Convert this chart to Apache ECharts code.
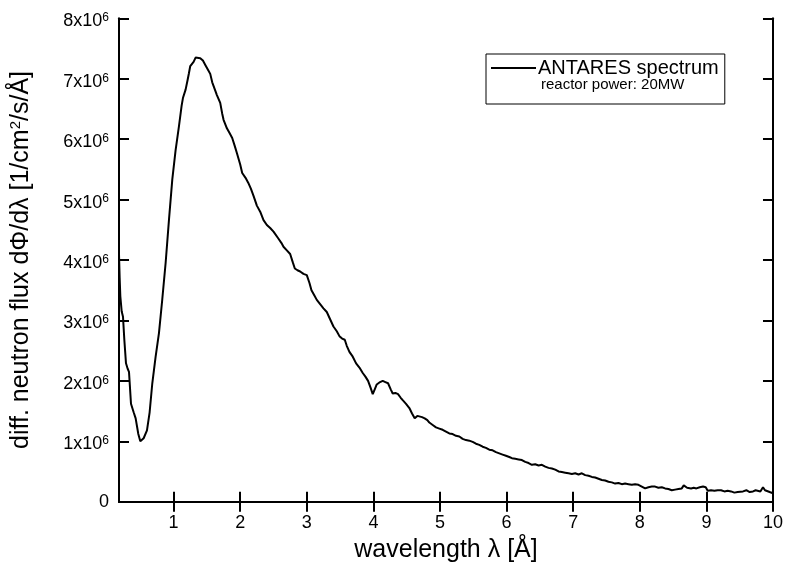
<!DOCTYPE html>
<html>
<head>
<meta charset="utf-8">
<script src="https://cdn.jsdelivr.net/npm/echarts@6/dist/echarts.min.js"></script>
<style>
html,body{margin:0;padding:0;background:#fff;}
#c{width:786px;height:573px;}
</style>
</head>
<body>
<div id="c"></div>
<script>
// wavelength in Angstrom
var lambda = [0.18,0.19,0.20,0.22,0.24,0.26,0.285,0.31,0.33,0.36,0.40,0.43,0.47,0.50,0.52,0.55,0.60,0.64,0.68,0.73,0.78,0.83,0.88,0.93,0.98,1.03,1.08,1.12,1.14,1.18,1.21,1.23,1.25,1.28,1.30,1.33,1.36,1.40,1.44,1.48,1.52,1.55,1.58,1.62,1.65,1.70,1.73,1.75,1.80,1.84,1.88,1.92,1.95,2.00,2.03,2.08,2.12,2.16,2.20,2.25,2.30,2.35,2.40,2.45,2.50,2.57,2.62,2.65,2.70,2.75,2.79,2.82,2.86,2.90,2.95,3.00,3.04,3.07,3.11,3.15,3.20,3.25,3.30,3.35,3.40,3.45,3.49,3.53,3.57,3.60,3.64,3.69,3.74,3.79,3.84,3.88,3.92,3.96,3.99,4.02,4.05,4.10,4.14,4.18,4.22,4.26,4.29,4.33,4.37,4.41,4.44,4.49,4.54,4.58,4.62,4.66,4.69,4.73,4.77,4.81,4.84,4.89,4.94,4.99,5.04,5.09,5.14,5.19,5.24,5.29,5.34,5.39,5.44,5.49,5.54,5.59,5.64,5.69,5.74,5.79,5.84,5.89,5.94,5.99,6.04,6.08,6.13,6.18,6.23,6.28,6.33,6.38,6.43,6.48,6.53,6.58,6.63,6.68,6.73,6.78,6.83,6.88,6.93,6.98,7.03,7.08,7.13,7.18,7.23,7.28,7.33,7.38,7.43,7.48,7.53,7.58,7.63,7.68,7.73,7.78,7.83,7.88,7.93,7.98,8.03,8.08,8.13,8.18,8.23,8.28,8.33,8.38,8.43,8.48,8.53,8.58,8.63,8.66,8.68,8.71,8.73,8.77,8.81,8.85,8.90,8.95,8.99,9.02,9.07,9.12,9.17,9.22,9.27,9.32,9.37,9.42,9.47,9.50,9.55,9.60,9.65,9.70,9.74,9.77,9.81,9.85,9.88,9.90,9.95,10.0];
// flux in units of 1e6 n/cm^2/s/A
var flux = [4.10,3.70,3.40,3.15,3.06,2.68,2.29,2.20,2.15,1.62,1.48,1.38,1.12,1.00,0.98,1.05,1.18,1.48,1.96,2.40,2.79,3.35,3.95,4.66,5.33,5.82,6.21,6.55,6.68,6.82,6.98,7.09,7.21,7.24,7.28,7.35,7.37,7.34,7.30,7.22,7.14,7.08,6.94,6.82,6.73,6.60,6.42,6.32,6.18,6.10,6.02,5.88,5.77,5.58,5.44,5.36,5.28,5.18,5.06,4.90,4.80,4.66,4.58,4.53,4.47,4.36,4.28,4.22,4.16,4.10,3.96,3.86,3.83,3.81,3.77,3.75,3.62,3.50,3.42,3.34,3.27,3.20,3.14,3.02,2.90,2.82,2.74,2.70,2.68,2.58,2.48,2.40,2.29,2.22,2.13,2.07,2.00,1.88,1.78,1.86,1.94,1.98,2.00,1.98,1.96,1.86,1.79,1.80,1.78,1.72,1.68,1.62,1.55,1.46,1.38,1.42,1.44,1.40,1.38,1.35,1.31,1.27,1.23,1.21,1.19,1.16,1.13,1.12,1.09,1.08,1.04,1.02,1.01,0.99,0.96,0.94,0.91,0.89,0.86,0.85,0.82,0.80,0.78,0.76,0.74,0.72,0.71,0.70,0.69,0.66,0.64,0.61,0.62,0.60,0.61,0.58,0.56,0.55,0.53,0.50,0.49,0.48,0.47,0.46,0.47,0.45,0.47,0.44,0.43,0.41,0.40,0.38,0.36,0.35,0.33,0.32,0.30,0.31,0.29,0.30,0.29,0.28,0.29,0.28,0.25,0.22,0.24,0.25,0.25,0.23,0.24,0.22,0.21,0.19,0.20,0.21,0.22,0.27,0.30,0.23,0.21,0.22,0.23,0.22,0.24,0.25,0.24,0.18,0.19,0.18,0.19,0.19,0.17,0.18,0.17,0.15,0.16,0.15,0.17,0.19,0.16,0.17,0.19,0.18,0.17,0.24,0.19,0.17,0.16,0.14];

var xTicks = [1,2,3,4,5,6,7,8,9,10];
var seriesName = 'ANTARES spectrum';
var noteText = 'reactor power: 20MW';
var xTitle = 'wavelength λ [Å]';

var FONT = '"Liberation Sans", Arial, Helvetica, sans-serif';
var data = lambda.map(function (x, i) { return [x, flux[i]]; });

var chart = echarts.init(document.getElementById('c'), null, {renderer: 'canvas'});

var tickStyle = {show: true, inside: true, length: 10, lineStyle: {color: '#000', width: 2}};
var lineStyle = {show: true, lineStyle: {color: '#000', width: 2}};

var option = {
  backgroundColor: '#fff',
  animation: false,
  grid: {left: 118, right: 10.5, top: 18.3, bottom: 71.3, containLabel: false},
  legend: {
    show: true,
    left: 486, top: 54,
    orient: 'vertical',
    padding: [4, 6, 26, 5],
    borderColor: '#000', borderWidth: 1,
    backgroundColor: '#fff',
    itemWidth: 45, itemHeight: 14,
    icon: 'path://M0,0 L45,0 L45,2 L0,2 Z',
    itemStyle: {color: '#000'},
    textStyle: {fontFamily: FONT, fontSize: 20, color: '#000', lineHeight: 20, padding: [0, 0, 0, -3]},
    data: [seriesName]
  },
  graphic: [{
    type: 'text', left: 541, top: 77, z: 100,
    style: {text: noteText, font: '15px ' + FONT, fill: '#000'}
  }],
  xAxis: [{
    type: 'value', min: 0.18, max: 10, position: 'bottom',
    axisLine: lineStyle,
    axisTick: Object.assign({customValues: xTicks}, tickStyle),
    axisLabel: {customValues: xTicks, fontFamily: FONT, fontSize: 18, color: '#000', margin: 12},
    splitLine: {show: false},
    name: xTitle, nameLocation: 'middle', nameGap: 36,
    nameTextStyle: {fontFamily: FONT, fontSize: 25, color: '#000'}
  }, {
    type: 'value', min: 0.18, max: 10, position: 'top',
    axisLine: lineStyle,
    axisTick: Object.assign({customValues: xTicks}, tickStyle),
    axisLabel: {show: false, customValues: xTicks},
    splitLine: {show: false}
  }],
  yAxis: [{
    type: 'value', min: 0, max: 8, interval: 1, position: 'left',
    axisLine: lineStyle,
    axisTick: tickStyle,
    axisLabel: {
      margin: 10, color: '#000', padding: [6, 0, 0, 0],
      formatter: function (v) { return v === 0 ? '{z|0}' : '{a|' + v + 'x10}{b|6}'; },
      rich: {
        a: {fontFamily: FONT, fontSize: 18, color: '#000', lineHeight: 19},
        z: {fontFamily: FONT, fontSize: 18, color: '#000', lineHeight: 19, padding: [0, 0, 6, 0]},
        b: {fontFamily: FONT, fontSize: 12, color: '#000', verticalAlign: 'top', lineHeight: 19, padding: [0, 0, 5, 0]}
      }
    },
    splitLine: {show: false},
    name: '{n|diff. neutron flux dΦ/dλ [1/cm}{s|2}{n|/s/Å]}',
    nameLocation: 'middle', nameGap: 84, nameRotate: 90,
    nameTextStyle: {
      rich: {
        n: {fontFamily: FONT, fontSize: 25, color: '#000', lineHeight: 27},
        s: {fontFamily: FONT, fontSize: 15, color: '#000', verticalAlign: 'top', lineHeight: 27, padding: [0, 0, 9, 0]}
      }
    }
  }, {
    type: 'value', min: 0, max: 8, interval: 1, position: 'right',
    axisLine: lineStyle,
    axisTick: tickStyle,
    axisLabel: {show: false},
    splitLine: {show: false}
  }],
  series: [{
    name: seriesName,
    type: 'line',
    xAxisIndex: 0, yAxisIndex: 0,
    data: data,
    showSymbol: false, symbol: 'none',
    lineStyle: {color: '#000', width: 2},
    itemStyle: {color: '#000'},
    clip: true
  }]
};
chart.setOption(option);
</script>
</body>
</html>
